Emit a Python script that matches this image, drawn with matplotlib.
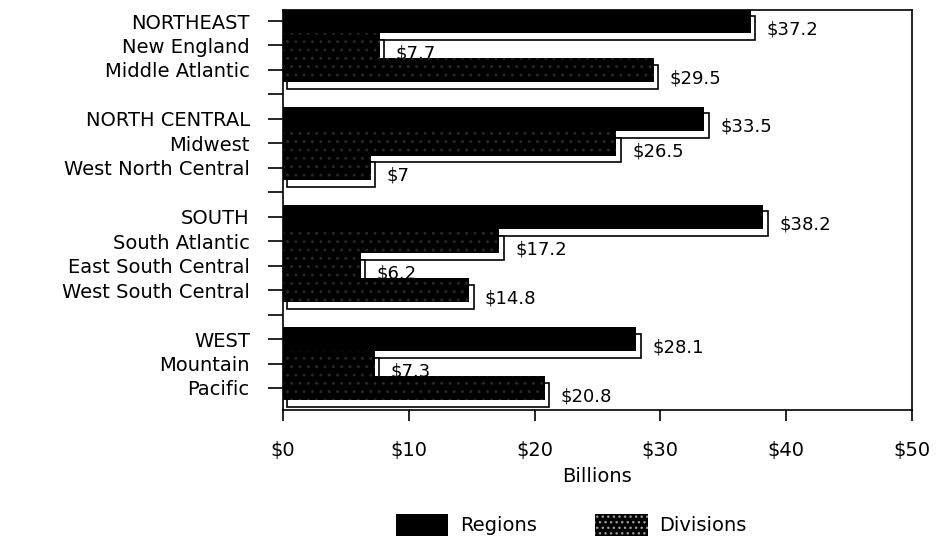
import matplotlib
matplotlib.use("Agg")
import matplotlib.pyplot as plt
from matplotlib.patches import Patch

# values in billions of dollars, regions followed by their divisions
categories = ["NORTHEAST", "New England", "Middle Atlantic",
              "NORTH CENTRAL", "Midwest", "West North Central",
              "SOUTH", "South Atlantic", "East South Central", "West South Central",
              "WEST", "Mountain", "Pacific"]
values = [37.2, 7.7, 29.5,
          33.5, 26.5, 7.0,
          38.2, 17.2, 6.2, 14.8,
          28.1, 7.3, 20.8]
is_region = [True, False, False,
             True, False, False,
             True, False, False, False,
             True, False, False]
xticks = [0, 10, 20, 30, 40, 50]

# row positions: one empty row between groups
pos = []
p = 0
for i, r in enumerate(is_region):
    if r and i > 0:
        p += 1
    pos.append(p)
    p += 1
n_rows = p

fig = plt.figure(figsize=(9.41, 5.44), dpi=100)
ax = fig.add_axes([0.3008, 0.2463, 0.6682, 0.7353])

dx, dy, h = 0.35, 0.28, 1.0
for i, (y, v, r) in enumerate(zip(pos, values, is_region)):
    z = 2 + 3 * i
    # white "3d" shadow behind the bar
    ax.barh(y + dy, v, left=dx, height=h, color="white", edgecolor="black",
            linewidth=1.2, zorder=z)
    if r:
        ax.barh(y, v, height=h, color="black", linewidth=0, zorder=z + 1)
    else:
        ax.barh(y, v, height=h, color="black", edgecolor="#262626", hatch="..",
                linewidth=0, zorder=z + 1)
    ax.text(v + 1.25, y + 0.33, f"${v:g}", fontsize=13, va="center", ha="left",
            zorder=z + 2)

ax.set_xlim(0, 50)
ax.set_ylim(n_rows - 0.1, -0.45)
ax.set_xticks(xticks)
ax.set_xticklabels([f"${t}" for t in xticks])

ticklabels = [""] * n_rows
for y, c in zip(pos, categories):
    ticklabels[y] = c
ax.set_yticks(range(n_rows))
ax.set_yticklabels(ticklabels)

ax.tick_params(axis="y", length=11, width=1.2, pad=13, labelsize=14)
ax.tick_params(axis="x", length=8, width=1.2, pad=14, labelsize=14)
for s in ax.spines.values():
    s.set_linewidth(1.2)
    s.set_zorder(100)
ax.set_xlabel("Billions", fontsize=14, labelpad=5)

handles = [Patch(facecolor="black", linewidth=0),
           Patch(facecolor="black", edgecolor="#9a9a9a", hatch="...", linewidth=0)]
fig.legend(handles, ["Regions", "Divisions"], loc="center", ncol=2,
           bbox_to_anchor=(0.607, 0.035), frameon=False, fontsize=14,
           handlelength=2.7, handleheight=1.3, columnspacing=3.0, handletextpad=0.6)

fig.savefig("out.png", dpi=100)
